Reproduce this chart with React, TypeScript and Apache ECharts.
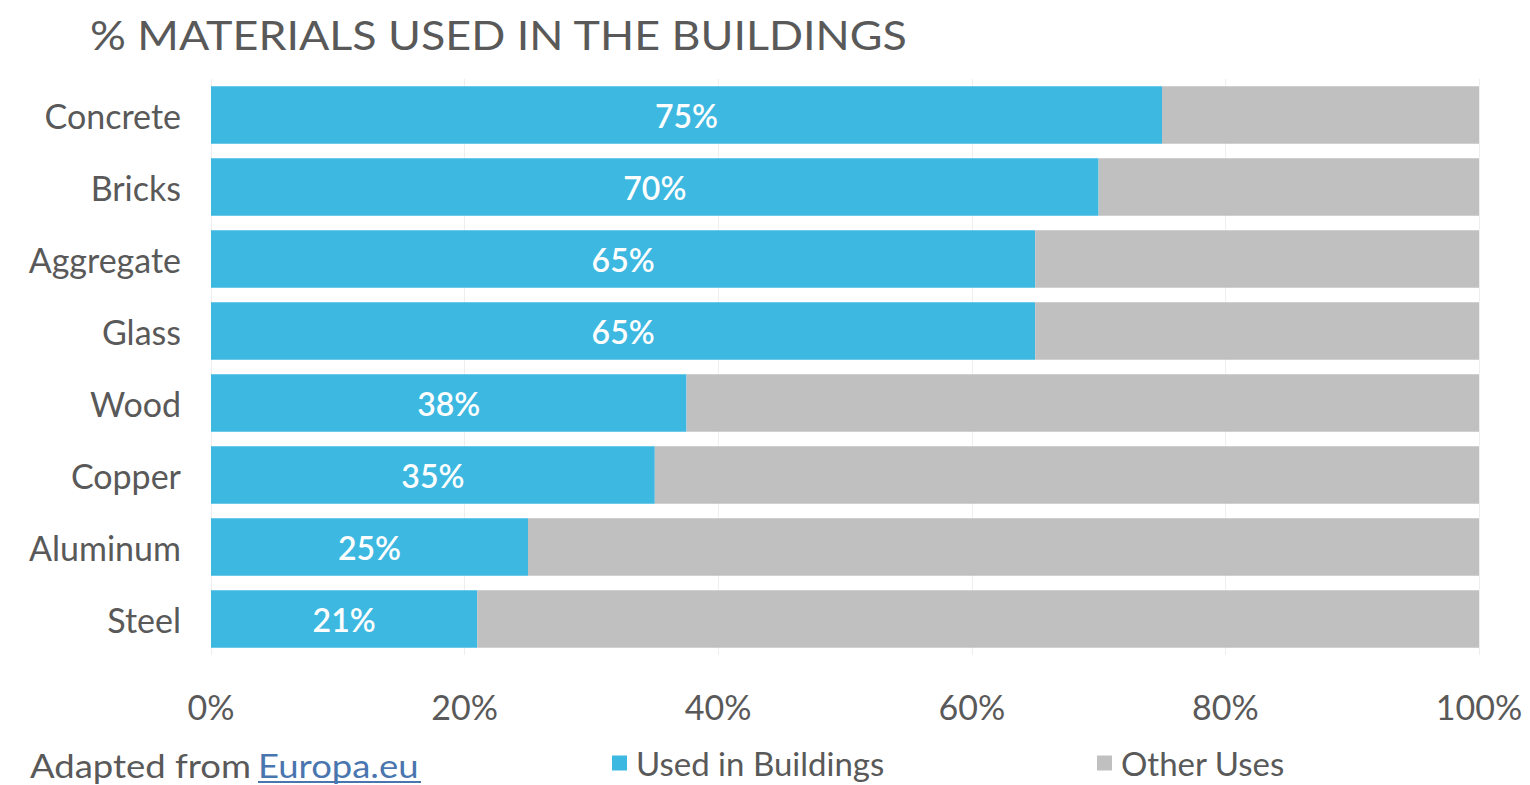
import React, { useEffect, useRef } from "react";
import * as echarts from "echarts";

const categories = ["Concrete", "Bricks", "Aggregate", "Glass", "Wood", "Copper", "Aluminum", "Steel"];
const usedInBuildings = [75, 70, 65, 65, 37.5, 35, 25, 21];
const usedLabels = ["75%", "70%", "65%", "65%", "38%", "35%", "25%", "21%"];
const otherUses = usedInBuildings.map((v) => 100 - v);
const xTicks = [0, 20, 40, 60, 80, 100];

const FONT = "Lato, 'Open Sans', sans-serif";
const GRAY = "#595959";

export default function App() {
  const ref = useRef<HTMLDivElement>(null);
  useEffect(() => {
    if (!ref.current) return;
    const chart = echarts.init(ref.current, undefined, { renderer: "svg" });
    chart.setOption({
      animation: false,
      backgroundColor: "#ffffff",
      textStyle: { fontFamily: FONT },
      grid: { left: 211, right: 51, top: 79, bottom: 130, containLabel: false },
      xAxis: {
        type: "value",
        min: 0,
        max: 100,
        interval: 20,
        axisLine: { show: false },
        axisTick: { show: false },
        splitLine: { show: true, lineStyle: { color: "#eeeeee", width: 1 } },
        axisLabel: {
          margin: 34,
          fontSize: 34,
          color: GRAY,
          fontFamily: FONT,
          formatter: (v: number) => (xTicks.includes(v) ? v + "%" : ""),
        },
      },
      yAxis: {
        type: "category",
        data: categories,
        inverse: true,
        axisLine: { show: false },
        axisTick: { show: false },
        axisLabel: { margin: 30, fontSize: 34, color: GRAY, fontFamily: FONT },
      },
      legend: [
        {
          data: ["Used in Buildings"],
          left: 612,
          top: 745,
          padding: 0,
          itemWidth: 15,
          itemHeight: 15,
          icon: "rect",
          textStyle: { fontSize: 33, lineHeight: 36, color: GRAY, fontFamily: FONT, padding: [0, 0, 0, 4] },
        },
        {
          data: ["Other Uses"],
          left: 1097,
          top: 745,
          padding: 0,
          itemWidth: 15,
          itemHeight: 15,
          icon: "rect",
          textStyle: { fontSize: 33, lineHeight: 36, color: GRAY, fontFamily: FONT, padding: [0, 0, 0, 4] },
        },
      ],
      graphic: [
        {
          type: "text",
          x: 90,
          y: 14,
          scaleX: 1.12,
          style: {
            text: "% MATERIALS USED IN THE BUILDINGS",
            fontSize: 40,
            fill: GRAY,
            fontFamily: FONT,
          },
        },
        {
          type: "text",
          x: 30,
          y: 749,
          scaleX: 1.14,
          style: { text: "Adapted from", fontSize: 32, fill: GRAY, fontFamily: FONT },
        },
        {
          type: "text",
          x: 258,
          y: 749,
          scaleX: 1.14,
          style: { text: "Europa.eu", fontSize: 32, fill: "#4a76b0", fontFamily: FONT },
        },
        {
          type: "line",
          shape: { x1: 258, y1: 782, x2: 421, y2: 782 },
          style: { stroke: "#4a76b0", lineWidth: 2 },
        },
      ],
      series: [
        {
          name: "Used in Buildings",
          type: "bar",
          stack: "total",
          data: usedInBuildings,
          barCategoryGap: "20%",
          itemStyle: { color: "#3db8e1" },
          label: {
            show: true,
            position: "inside",
            color: "#ffffff",
            fontSize: 32,
            fontWeight: 600,
            fontFamily: FONT,
            formatter: (p: any) => usedLabels[p.dataIndex],
          },
        },
        {
          name: "Other Uses",
          type: "bar",
          stack: "total",
          data: otherUses,
          barCategoryGap: "20%",
          itemStyle: { color: "#c0c0c0" },
        },
      ],
    });
    return () => chart.dispose();
  }, []);
  return <div ref={ref} style={{ width: 1530, height: 785, position: "absolute", left: 0, top: 0 }} />;
}
